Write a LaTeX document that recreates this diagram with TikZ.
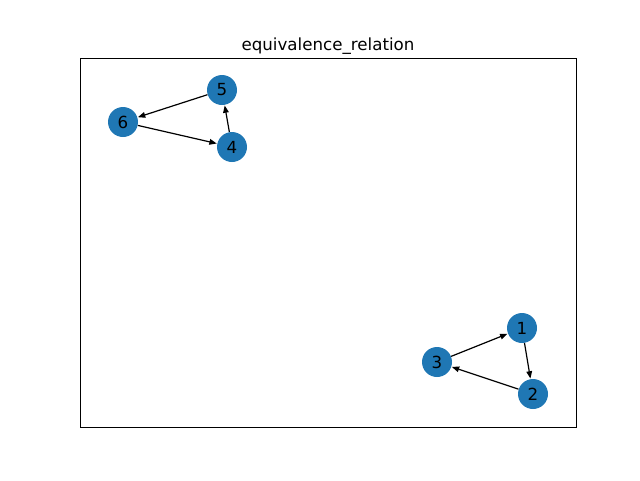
\documentclass[tikz,border=0pt]{standalone}
\usepackage{fontspec}
\setmainfont{DejaVu Sans}
\usetikzlibrary{arrows.meta}
\definecolor{nodeblue}{HTML}{1F77B4}
\begin{document}
\begin{tikzpicture}[x=0.75pt,y=-0.75pt,
  vert/.style={circle,fill=nodeblue,minimum size=22.5pt,inner sep=0pt,font=\fontsize{12.5}{14}\selectfont},
  edge/.style={-{Triangle[length=5.5pt,width=4.2pt]},line width=0.9pt,black,shorten >=0.3pt}]
\useasboundingbox (0,0) rectangle (640,480);
\draw[line width=0.6pt] (80,58) rectangle (576,427);
\node[anchor=base,font=\fontsize{12.5}{14}\selectfont] (title) at (328,50) {equivalence\_relation};
\node[vert] (n5) at (222,90) {5};
\node[vert] (n6) at (123,122) {6};
\node[vert] (n4) at (232,147) {4};
\node[vert] (n1) at (522,328) {1};
\node[vert] (n3) at (437,362) {3};
\node[vert] (n2) at (533,394) {2};
\draw[edge] (n5) -- (n6);
\draw[edge] (n6) -- (n4);
\draw[edge] (n4) -- (n5);
\draw[edge] (n3) -- (n1);
\draw[edge] (n1) -- (n2);
\draw[edge] (n2) -- (n3);
\end{tikzpicture}
\end{document}
